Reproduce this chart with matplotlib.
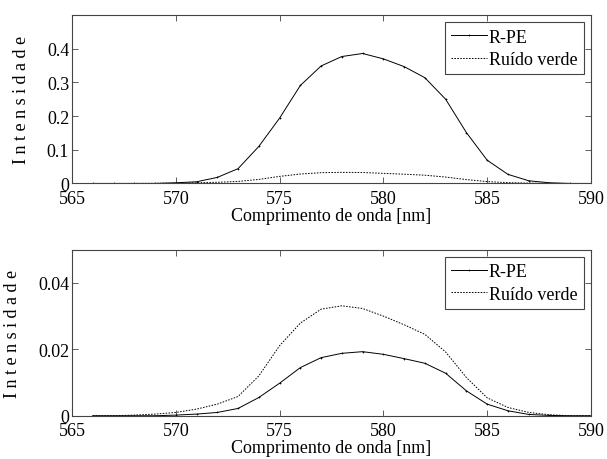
import matplotlib.pyplot as plt
import numpy as np

plt.rcParams["font.family"] = ["Liberation Serif", "DejaVu Serif"]
plt.rcParams["font.size"] = 13

# wavelength grid in nm
wavelength = np.arange(566, 591)

# top panel: raw R-PE spectrum and green noise
rpe_top = [0.0, 0.0, 0.0, 0.0, 0.002, 0.005, 0.018, 0.044, 0.110, 0.194,
           0.291, 0.349, 0.377, 0.386, 0.370, 0.347, 0.314, 0.250, 0.151,
           0.069, 0.027, 0.008, 0.002, 0.0, 0.0]
noise_top = [0.0, 0.0, 0.0002, 0.0005, 0.001, 0.002, 0.0035, 0.006, 0.012,
             0.021, 0.028, 0.032, 0.033, 0.0325, 0.030, 0.0275, 0.0245,
             0.019, 0.0115, 0.0055, 0.0025, 0.001, 0.0003, 0.0, 0.0]

# bottom panel: R-PE after correction and green noise
rpe_bottom = [0.0, 0.0, 0.0, 0.0, 0.0002, 0.0005, 0.001, 0.0022, 0.0055,
              0.0098, 0.0145, 0.0175, 0.0188, 0.0193, 0.0185, 0.0172,
              0.0158, 0.0128, 0.0075, 0.0035, 0.0015, 0.0004, 0.0001, 0.0,
              0.0]
noise_bottom = [0.0, 0.0, 0.0002, 0.0005, 0.001, 0.002, 0.0035, 0.0058,
                0.012, 0.0211, 0.0279, 0.0321, 0.0331, 0.0323, 0.030, 0.0274,
                0.0245, 0.0192, 0.0115, 0.0054, 0.0025, 0.001, 0.0003, 0.0,
                0.0]

yticks_top = [0, 0.1, 0.2, 0.3, 0.4]
ytick_labels_top = ["0", "0.1", "0.2", "0.3", "0.4"]
yticks_bottom = [0, 0.02, 0.04]
ytick_labels_bottom = ["0", "0.02", "0.04"]
xticks = [565, 570, 575, 580, 585, 590]

fig = plt.figure(figsize=(6.07, 4.60), dpi=100)
ax_top = fig.add_axes([0.1186, 0.599, 0.855, 0.366])
ax_bot = fig.add_axes([0.1186, 0.094, 0.855, 0.361])

panels = [
    (ax_top, rpe_top, noise_top, 0.5, yticks_top, ytick_labels_top),
    (ax_bot, rpe_bottom, noise_bottom, 0.05, yticks_bottom,
     ytick_labels_bottom),
]

for ax, rpe, noise, ymax, yt, ytl in panels:
    ax.plot(wavelength, rpe, color="black", lw=0.7, marker="+", ms=2,
            mew=0.5, label="R-PE")
    ax.plot(wavelength, noise, color="black", lw=0.7, dashes=(1.6, 1.4),
            label="Ruído verde")
    ax.set_xlim(565, 590)
    ax.set_ylim(0, ymax)
    ax.set_xticks(xticks)
    ax.set_yticks(yt)
    ax.set_yticklabels(ytl)
    ax.tick_params(direction="in", top=True, right=True, length=4,
                   width=0.6, color="#444444")
    ax.tick_params(axis="x", pad=4.5)
    ax.tick_params(axis="y", pad=2)
    for spine in ax.spines.values():
        spine.set_color("#444444")
        spine.set_linewidth(0.8)
    ax.set_xlabel("Comprimento de onda [nm]", labelpad=0)
    ax.set_ylabel("I n t e n s i d a d e", labelpad=12)
    leg = ax.legend(loc="upper right", fancybox=False, framealpha=1,
                    edgecolor="#444444", handlelength=2.0, borderpad=0.35,
                    labelspacing=0.3, handletextpad=0.1,
                    borderaxespad=0.4)
    leg.get_frame().set_linewidth(0.8)

fig.savefig("out.png", dpi=100)
